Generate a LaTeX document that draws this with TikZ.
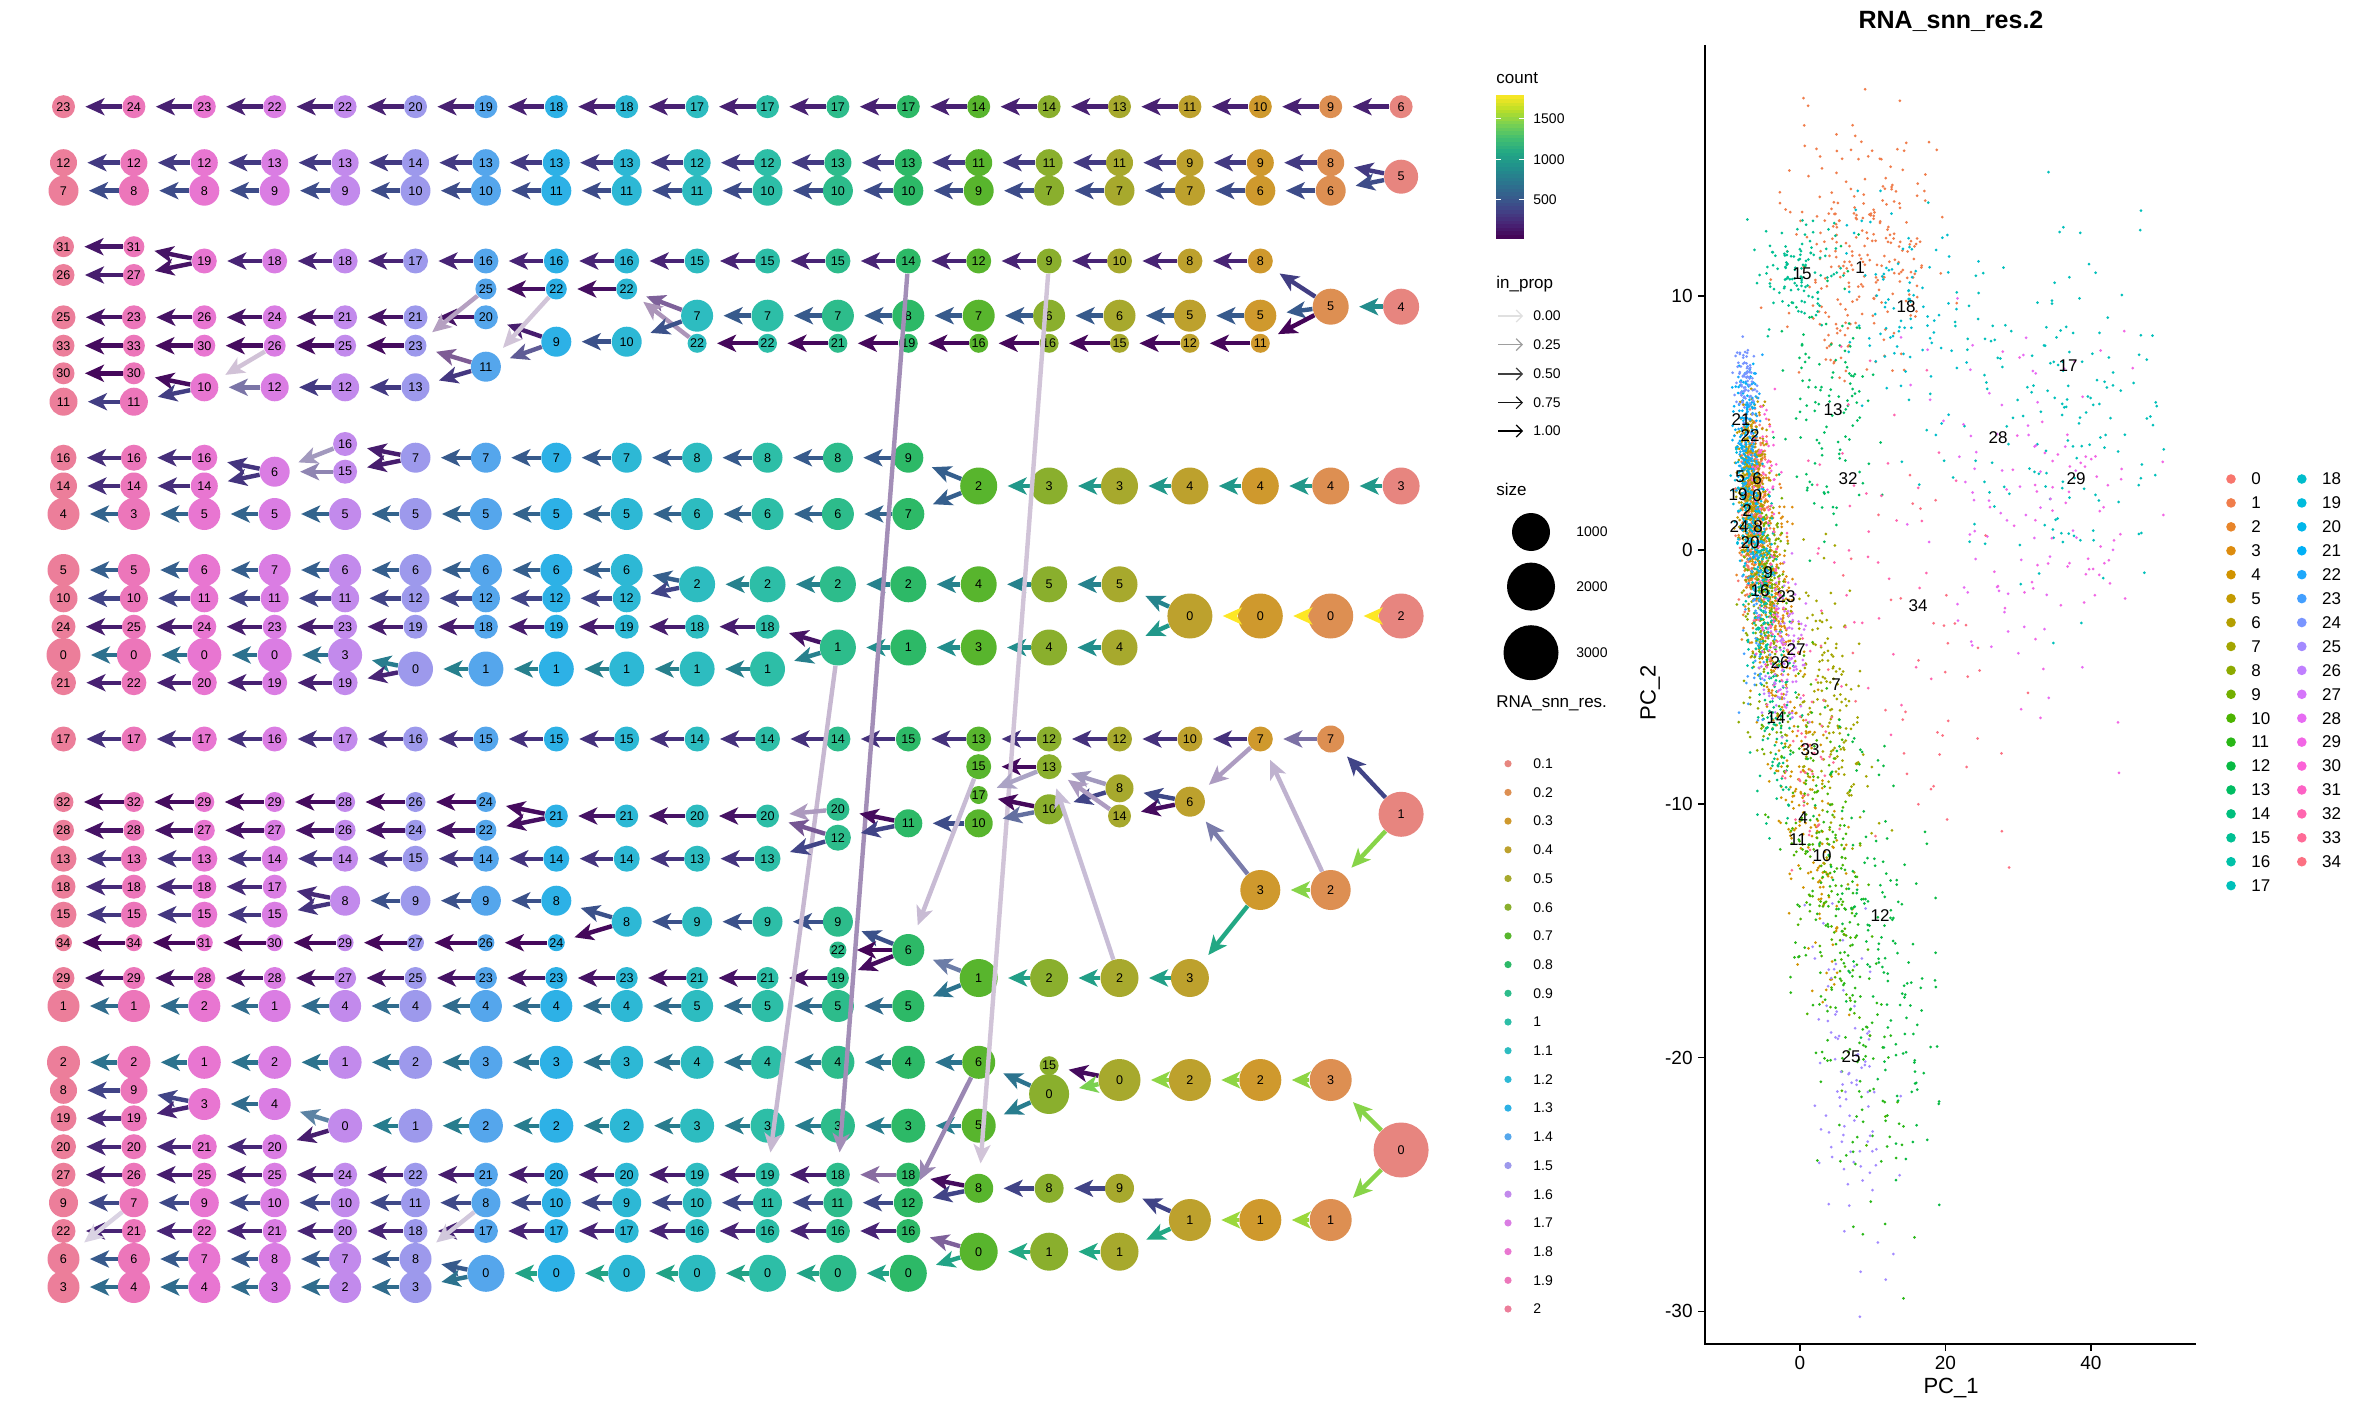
\documentclass[tikz,border=0pt]{standalone}
\usepackage{fontspec}
\setmainfont{Liberation Sans}
\usetikzlibrary{arrows.meta}
% hue palette (20)
\definecolor{p0}{HTML}{F8766D}\definecolor{p1}{HTML}{EA8331}\definecolor{p2}{HTML}{D89000}
\definecolor{p3}{HTML}{C09B00}\definecolor{p4}{HTML}{A3A500}\definecolor{p5}{HTML}{7CAE00}
\definecolor{p6}{HTML}{39B600}\definecolor{p7}{HTML}{00BB4E}\definecolor{p8}{HTML}{00BF7D}
\definecolor{p9}{HTML}{00C1A3}\definecolor{p10}{HTML}{00BFC4}\definecolor{p11}{HTML}{00BAE0}
\definecolor{p12}{HTML}{00B0F6}\definecolor{p13}{HTML}{35A2FF}\definecolor{p14}{HTML}{9590FF}
\definecolor{p15}{HTML}{C77CFF}\definecolor{p16}{HTML}{E76BF3}\definecolor{p17}{HTML}{FA62DB}
\definecolor{p18}{HTML}{FF62BC}\definecolor{p19}{HTML}{FF6C91}
% viridis
\definecolor{v0}{HTML}{440154}\definecolor{v1}{HTML}{482475}\definecolor{v2}{HTML}{414487}
\definecolor{v3}{HTML}{355F8D}\definecolor{v4}{HTML}{2A788E}\definecolor{v5}{HTML}{21918C}
\definecolor{v6}{HTML}{22A884}\definecolor{v7}{HTML}{44BF70}\definecolor{v8}{HTML}{7AD151}
\definecolor{v9}{HTML}{BDDF26}\definecolor{v10}{HTML}{FDE725}
\definecolor{mg}{HTML}{B4B4B4}
\newcommand\setvir[1]{%
  \pgfmathsetmacro\virx{#1}%
  \pgfmathtruncatemacro\virk{min(floor(\virx),9)}%
  \pgfmathtruncatemacro\virn{\virk+1}%
  \pgfmathtruncatemacro\virp{round(100*(\virn-\virx))}%
  \colorlet{ecol}{v\virk!\virp!v\virn}%
}
\newcommand\hcol[2]{%
  \pgfmathsetmacro\hpp{#1*20/35}%
  \pgfmathtruncatemacro\hpk{floor(\hpp)}%
  \pgfmathtruncatemacro\hpn{mod(\hpk+1,20)}%
  \pgfmathtruncatemacro\hpf{round(100*(1-\hpp+\hpk))}%
  \colorlet{#2}{p\hpk!\hpf!p\hpn}%
}
\tikzset{
  cn/.style={circle, inner sep=0pt, font=\fontsize{6.3}{7}\selectfont},
  ed/.style={line width=2.2pt, -{Stealth[length=9.5pt,width=8.5pt,inset=2.5pt]}, shorten >=5pt},
  lgt/.style={font=\fontsize{7}{8}\selectfont, anchor=west, inner sep=0pt},
  lgh/.style={font=\fontsize{8.5}{10}\selectfont, anchor=west, inner sep=0pt},
  axt/.style={font=\fontsize{9.5}{11}\selectfont, inner sep=0pt},
  cll/.style={font=\fontsize{8.5}{10}\selectfont, inner sep=0pt},
}
% row of clustree nodes: y, first column, radius(px), edge colour index, edge opacity(%), labels
\newcommand\crownodes[6]{%
  \foreach \l [count=\i from 0] in {#6}{%
    \pgfmathtruncatemacro\cc{#2+\i}%
    \pgfmathtruncatemacro\pc{19-\cc}%
    \node[cn, minimum size=#3pt, fill=p\pc!75!mg] (n\cc-\l) at ({63.5+70.4*\cc},#1) {\l};
  }%
}
\newcommand\crowedges[6]{%
  \foreach \l [count=\i from 0, remember=\l as \lp (initially x)] in {#6}{%
    \ifnum\i>0
      \pgfmathtruncatemacro\cc{#2+\i}%
      \pgfmathtruncatemacro\cq{\cc-1}%
      \setvir{#4}%
      \draw[ed, draw=ecol!#5!white] (n\cc-\l) -- (n\cq-\lp);
    \fi
  }%
}
\newcommand\xedge[4]{%
  \setvir{#3}%
  \draw[ed, draw=ecol!#4!white] (#1) -- (#2);
}
\newcommand\rowsdata{%
\crow{106.7}{0}{11.5}{0.9}{100}{23,24,23,22,22,20,19,18,18,17,17,17,17,14,14,13,11,10,9,6}
\crow{162.7}{0}{13.5}{1.7}{100}{12,12,12,13,13,14,13,13,13,12,12,13,13,11,11,11,9,9,8}
\crow{190.7}{0}{15}{2.3}{100}{7,8,8,9,9,10,10,11,11,11,10,10,10,9,7,7,7,6,6}
\crow{176.7}{19}{17}{0}{100}{5}
\crow{246.7}{0}{10.5}{0.6}{100}{31,31}
\crow{275}{0}{11}{0.8}{100}{26,27}
\crow{261}{2}{12.5}{1}{100}{19,18,18,17,16,16,16,15,15,15,14,12,9,10,8,8}
\crow{289}{6}{10.5}{0.4}{100}{25,22,22}
\crow{317.3}{0}{12}{0.5}{100}{25,23,26,24,21,21,20}
\crow{345.7}{0}{11}{0.3}{100}{33,33,30,26,25,23}
\crow{373.3}{0}{11}{0.2}{100}{30,30}
\crow{401.7}{0}{14}{1.8}{100}{11,11}
\crow{387.3}{2}{14}{1.7}{100}{10}
\crow{387.3}{3}{14}{1.7}{100}{12,12,13}
\crow{366.7}{6}{15}{0}{100}{11}
\crow{341.7}{7}{15}{2.5}{100}{9,10}
\crow{315.7}{9}{16}{2.8}{100}{7,7,7,8,7,6,6,5,5}
\crow{343.3}{9}{9.5}{0.2}{100}{22,22,21,19,16,16,15,12,11}
\crow{306.7}{18}{18}{4.8}{100}{5,4}
\crow{444}{4}{12}{0}{100}{16}
\crow{471.7}{4}{12}{0}{100}{15}
\crow{471.7}{3}{15}{0}{100}{6}
\crow{457.7}{0}{13}{1.3}{100}{16,16,16}
\crow{486}{0}{13.5}{1.3}{100}{14,14,14}
\crow{457.7}{5}{15}{2.8}{100}{7,7,7,7,8,8,8,9}
\crow{486}{13}{18.5}{5.3}{100}{2,3,3,4,4,4,3}
\crow{514}{0}{16}{3.2}{100}{4,3,5,5,5,5,5,5,5,6,6,6,7}
\crow{570}{0}{16}{3}{100}{5,5,6,7,6,6,6,6,6}
\crow{598.3}{0}{14}{2}{100}{10,10,11,11,11,12,12,12,12}
\crow{584.3}{9}{18}{4.4}{100}{2,2,2,2,4,5,5}
\crow{626.7}{0}{12}{0.8}{100}{24,25,24,23,23,19,18,19,19,18,18}
\crow{655}{0}{17}{3.7}{100}{0,0,0,0,3}
\crow{682.7}{0}{12.5}{0.9}{100}{21,22,20,19,19}
\crow{669}{5}{17.5}{4.3}{100}{0,1,1,1,1,1}
\crow{647.5}{11}{18}{4.9}{100}{1,1,3,4,4}
\crow{616}{16}{22.5}{10}{100}{0,0,0,2}
\crow{739}{0}{12.5}{1.4}{100}{17,17,17,16,17,16,15,15,15,14,14,14,15,13,12,12,10,7}
\crow{739}{18}{13.5}{0}{100}{7}
\crow{814.3}{19}{22.5}{0}{100}{1}
\crow{890}{17}{20}{8.2}{100}{3,2}
\crow{801.7}{16}{15}{0}{100}{6}
\crow{788.3}{15}{14}{0}{100}{8}
\crow{816}{15}{11.5}{0}{100}{14}
\crow{766.7}{13}{12.5}{0.3}{100}{15,13}
\crow{795}{13}{9}{0}{100}{17}
\crow{823.3}{12}{14}{2.3}{100}{11,10}
\crow{809.3}{14}{15}{0}{100}{10}
\crow{809.3}{11}{11.5}{0}{100}{20}
\crow{837.7}{11}{13}{0}{100}{12}
\crow{816}{7}{11.5}{0.5}{100}{21,21,20,20}
\crow{802}{0}{10}{0.3}{100}{32,32,29,29,28,26,24}
\crow{830.3}{0}{10.5}{0.5}{100}{28,28,27,27,26,24,22}
\crow{858.7}{0}{13}{1.5}{100}{13,13,13,14,14,15,14,14,14,13,13}
\crow{886.7}{0}{12}{1.2}{100}{18,18,18,17}
\crow{914.7}{0}{13}{1.6}{100}{15,15,15,15}
\crow{900.7}{4}{15}{2.5}{100}{8,9,9,8}
\crow{921.7}{8}{15}{2.5}{100}{8,9,9,9}
\crow{942.7}{0}{8.5}{0.2}{100}{34,34,31,30,29,27,26,24}
\crow{950}{11}{8.5}{0}{100}{22}
\crow{950}{12}{16}{0}{100}{6}
\crow{978}{0}{11}{0.5}{100}{29,29,28,28,27,25,23,23,23,21,21,19}
\crow{978}{13}{19}{5.6}{100}{1,2,2,3}
\crow{1006}{0}{16}{3.5}{100}{1,1,2,1,4,4,4,4,4,5,5,5,5}
\crow{1062.3}{0}{16.5}{3.8}{100}{2,2,1,2,1,2,3,3,3,4,4,4,4,6}
\crow{1125.7}{4}{17}{4.2}{100}{0,1,2,2,2,3,3,3,3,5}
\crow{1104}{2}{16}{3.5}{100}{3,4}
\crow{1090.3}{0}{13.5}{2}{100}{8,9}
\crow{1118.3}{0}{13}{1.2}{100}{19,19}
\crow{1146.7}{0}{12.5}{1.1}{100}{20,20,21,20}
\crow{1174.7}{0}{12}{0.8}{100}{27,26,25,25,24,22,21,20,20,19,19,18}
\crow{1174.7}{12}{12}{0}{100}{18}
\crow{1202.7}{0}{14.5}{2.2}{100}{9,7,9,10,10,11,8,10,9,10,11,11,12}
\crow{1231}{0}{12}{1}{100}{22,21,22,21,20,18,17,17,17,16,16,16,16}
\crow{1259}{0}{16}{2.8}{100}{6,6,7,8,7,8}
\crow{1287}{0}{16}{3.5}{100}{3,4,4,3,2,3}
\crow{1273.3}{6}{18.5}{5.8}{100}{0,0,0,0,0,0,0}
\crow{1251.7}{13}{19}{6}{100}{0,1,1}
\crow{1220}{16}{21}{8.5}{100}{1,1,1}
\crow{1188.3}{13}{14.5}{2}{100}{8,8,9}
\crow{1080}{15}{21}{8.3}{100}{0,2,2,3}
\crow{1094}{14}{20}{0}{100}{0}
\crow{1065.7}{14}{9.5}{0}{100}{15}
\crow{1150}{19}{27.5}{0}{100}{0}
}
\begin{document}
\begin{tikzpicture}[x=0.5pt,y=-0.5pt]
\useasboundingbox (0,0) rectangle (2362,1412);
\fill[white] (0,0) rectangle (2362,1412);
% ---------------- clustree: nodes, then edges ----------------
\let\crow\crownodes
\rowsdata
\let\crow\crowedges
\rowsdata
% ---------------- branching edges ----------------
\xedge{n19-5}{n18-8}{1.7}{100}
\xedge{n19-5}{n18-6}{2.3}{100}
\xedge{n2-19}{n1-31}{0.5}{100}
\xedge{n2-19}{n1-27}{0.5}{100}
\xedge{n18-5}{n17-8}{1.8}{100}
\xedge{n18-5}{n17-5}{2.8}{100}
\xedge{n18-5}{n17-11}{0.1}{100}
\xedge{n9-7}{n8-22}{0.8}{70}
\xedge{n9-22}{n8-22}{0.5}{45}
\xedge{n9-7}{n8-10}{2.5}{100}
\xedge{n7-9}{n6-20}{0.8}{100}
\xedge{n7-9}{n6-11}{1.8}{85}
\xedge{n7-22}{n6-11}{0.5}{25}
\xedge{n6-25}{n5-23}{0.5}{40}
\xedge{n6-11}{n5-23}{0.6}{70}
\xedge{n6-11}{n5-13}{1.6}{100}
\xedge{n2-10}{n1-30}{0.3}{100}
\xedge{n2-10}{n1-11}{1.8}{100}
\xedge{n3-26}{n2-10}{0.3}{25}
\xedge{n3-12}{n2-10}{1.7}{70}
\xedge{n5-7}{n4-16}{0.8}{100}
\xedge{n5-7}{n4-15}{0.8}{100}
\xedge{n4-16}{n3-6}{1.5}{50}
\xedge{n4-15}{n3-6}{1.5}{60}
\xedge{n3-6}{n2-16}{1.5}{100}
\xedge{n3-6}{n2-14}{1.5}{100}
\xedge{n13-2}{n12-9}{3}{100}
\xedge{n13-2}{n12-7}{3}{100}
\xedge{n14-9}{n13-8}{0.5}{25}
\xedge{n12-14}{n11-18}{0.8}{50}
\xedge{n9-2}{n8-6}{3}{100}
\xedge{n9-2}{n8-12}{2}{100}
\xedge{n11-1}{n10-18}{0.5}{100}
\xedge{n11-1}{n10-1}{4.3}{100}
\xedge{n16-0}{n15-5}{4.5}{100}
\xedge{n16-0}{n15-4}{5.3}{100}
\xedge{n5-0}{n4-3}{4.2}{100}
\xedge{n5-0}{n4-19}{1}{100}
\xedge{n11-1}{n10-19}{0.5}{30}
\xedge{n19-1}{n18-7}{2}{100}
\xedge{n19-1}{n18-2}{8.2}{100}
\xedge{n18-7}{n17-7}{1.5}{70}
\xedge{n18-2}{n17-7}{1}{35}
\xedge{n17-3}{n16-6}{2}{70}
\xedge{n17-3}{n16-3}{6}{100}
\xedge{n17-7}{n16-6}{1}{45}
\xedge{n16-6}{n15-8}{2.2}{100}
\xedge{n16-6}{n15-14}{0.3}{100}
\xedge{n15-8}{n14-13}{1.5}{50}
\xedge{n15-8}{n14-10}{2}{100}
\xedge{n15-14}{n14-13}{1}{45}
\xedge{n15-2}{n14-13}{1}{30}
\xedge{n14-13}{n13-17}{1.5}{45}
\xedge{n14-10}{n13-17}{0.2}{100}
\xedge{n14-10}{n13-10}{2.3}{80}
\xedge{n13-15}{n12-6}{0.8}{30}
\xedge{n12-11}{n11-20}{0.3}{100}
\xedge{n12-11}{n11-12}{2}{100}
\xedge{n11-20}{n10-20}{0.8}{45}
\xedge{n11-12}{n10-20}{0.8}{75}
\xedge{n11-12}{n10-13}{2}{100}
\xedge{n7-21}{n6-24}{0.3}{100}
\xedge{n7-21}{n6-22}{0.4}{100}
\xedge{n4-8}{n3-17}{1.2}{100}
\xedge{n4-8}{n3-15}{1.5}{100}
\xedge{n8-8}{n7-8}{2.5}{100}
\xedge{n8-8}{n7-24}{0.2}{100}
\xedge{n12-6}{n11-9}{2.5}{100}
\xedge{n12-6}{n11-22}{0.1}{100}
\xedge{n12-6}{n11-19}{0.3}{100}
\xedge{n13-1}{n12-6}{2.5}{75}
\xedge{n13-1}{n12-5}{3.8}{100}
\xedge{n19-0}{n18-3}{8.2}{100}
\xedge{n19-0}{n18-1}{8.2}{100}
\xedge{n15-0}{n14-15}{0.3}{100}
\xedge{n15-0}{n14-0}{8}{100}
\xedge{n14-0}{n13-6}{3.8}{100}
\xedge{n14-0}{n13-5}{4.2}{100}
\xedge{n16-1}{n15-9}{2}{100}
\xedge{n16-1}{n15-1}{6}{100}
\xedge{n13-6}{n12-12}{1}{55}
\xedge{n13-8}{n12-18}{0.3}{100}
\xedge{n13-8}{n12-12}{2}{100}
\xedge{n13-0}{n12-16}{0.8}{70}
\xedge{n13-0}{n12-0}{5.8}{100}
\xedge{n12-18}{n11-18}{0.8}{65}
\xedge{n6-0}{n5-8}{2.8}{100}
\xedge{n6-0}{n5-3}{3.8}{100}
\xedge{n6-8}{n5-8}{1}{25}
\xedge{n1-7}{n0-6}{1}{20}
\xedge{n4-0}{n3-4}{3.2}{80}
\xedge{n4-0}{n3-20}{0.8}{100}
\xedge{n2-3}{n1-9}{2}{100}
\xedge{n2-3}{n1-19}{1}{100}
% ---------------- clustree legends ----------------
\node[lgh] (lgcount) at (1496,78) {count};
\foreach \s in {0,...,39}{
  \setvir{(\s+0.5)/4}
  \fill[ecol] (1496,{238.6-\s*3.5775}) rectangle (1524,{238.6-(\s+1)*3.5775-0.4});
}
\foreach \yy/\tt in {118.6/1500,159.4/1000,199.8/500}{
  \draw[white, line width=0.6pt] (1496,\yy) -- (1501,\yy);
  \draw[white, line width=0.6pt] (1519,\yy) -- (1524,\yy);
  \node[lgt] (lgc\tt) at (1533,\yy) {\tt};
}
\node[lgh] (lginprop) at (1496,284) {in\_prop};
\foreach \yy/\tt/\gg in {316/0.00/12,344.6/0.25/38,374/0.50/75,402.7/0.75/92,431/1.00/100}{
  \draw[black!\gg, line width=0.6pt, -{Straight Barb[length=3pt,width=6pt]}] (1498,\yy) -- (1523,\yy);
  \node[lgt] (lgi\tt) at (1533,\yy) {\tt};
}
\node[lgh] (lgsize) at (1496,489) {size};
\foreach \yy/\rr/\tt in {532/19/1000,586.6/24/2000,652.7/27.5/3000}{
  \fill[black] (1531,\yy) circle (\rr*0.5pt);
  \node[lgt] (lgs\tt) at (1576,\yy) {\tt};
}
\node[lgh] (lgres) at (1496,703) {RNA\_snn\_res.};
\foreach \tt [count=\i from 0] in {0.1,0.2,0.3,0.4,0.5,0.6,0.7,0.8,0.9,1,1.1,1.2,1.3,1.4,1.5,1.6,1.7,1.8,1.9,2}{
  \fill[p\i!75!mg] (1508,{763.7+28.7*\i}) circle (1.8pt);
  \node[lgt] (lgr\i) at (1533,{763.7+28.7*\i}) {\tt};
}
% ---------------- PCA scatter ----------------
\begin{scope}
\clip (1707,40) rectangle (2205,1342);
\pgfmathsetseed{4242}
\foreach \cl/\mx/\my/\sx/\sy/\n/\tl in {
0/-6.5/1.5/1.0/1.8/300/0, 1/8/12/5/2.5/260/0, 2/-6/0.5/1.2/2/250/0, 3/-3.5/-2/1.5/2/200/0,
4/1/-10/2.2/3.5/200/-0.55, 5/-7/3/0.9/1.5/180/0, 6/-6.5/2/1/1.5/180/0, 7/4/-6/2.5/3/180/-0.5,
8/-5/-3/1.5/2/150/0, 9/-4.5/-1/1/1.5/130/0, 10/3/-12/2.5/4/150/-0.6, 11/5/-16/3/5/170/-0.6,
12/11/-15/3.5/5/150/-0.6, 13/4/5.5/3.5/2.5/120/0, 14/-3.5/-6.5/1.5/2/100/0, 15/0/11/3/1.1/110/0,
16/-5.2/-1.7/1/1.5/110/0, 17/35/6/8/3.5/170/0, 18/14/9.5/4/2/90/0, 19/-7.5/2/0.8/1.2/90/0,
20/-6/0.3/1/1.2/90/0, 21/-7.5/5/0.8/1.2/90/0, 22/-7/4.5/0.8/1.2/80/0, 23/-6/-2.5/1.2/2/70/0,
24/-7.5/6.5/0.7/0.8/80/0, 25/7/-21/2.5/3.5/90/-0.3, 26/-3/-4.3/1.3/1.5/60/0, 27/-1/-4/1.3/1.5/60/0,
28/27/2/6/4/70/0, 29/37/1/6/4/70/0, 30/-5/3/1/1.5/50/0, 31/-4/-3/1/1.5/50/0,
32/8/0/6/3.5/45/0, 33/1/-8/2/2/50/0, 34/18/-5/8/4/45/0}{
  \hcol{\cl}{scol}
  \foreach \k in {1,...,\n}{
    \pgfmathsetmacro\gy{\my+\sy*(rand+rand+rand)}
    \pgfmathsetmacro\gx{\mx+\sx*(rand+rand+rand)+\tl*(\gy-\my)}
    \fill[scol] ({1800+7.27*\gx},{550-25.38*\gy}) circle (0.75pt);
  }
}
\end{scope}
% axes
\draw[line width=0.8pt] (1705,45) -- (1705,1344) -- (2196,1344);
\foreach \v/\tt in {10/10,0/0,-10/-10,-20/-20,-30/-30}{
  \draw[line width=0.8pt] (1698,{550-25.38*\v}) -- (1705,{550-25.38*\v});
  \node[axt, anchor=east] (yt\v) at (1693,{550-25.38*\v}) {\tt};
}
\foreach \v in {0,20,40}{
  \draw[line width=0.8pt] ({1800+7.27*\v},1344) -- ({1800+7.27*\v},1351);
  \node[axt, anchor=north] (xt\v) at ({1800+7.27*\v},1356) {\v};
}
\node[font=\fontsize{11}{13}\selectfont, inner sep=0pt] (pc1) at (1951,1388) {PC\_1};
\node[font=\fontsize{11}{13}\selectfont, inner sep=0pt, rotate=90] (pc2) at (1650,693) {PC\_2};
\node[font=\bfseries\fontsize{12.5}{14}\selectfont, inner sep=0pt] (ttl) at (1951,21) {RNA\_snn\_res.2};
% cluster labels on the scatter
\foreach \tt/\xx/\yy in {15/1802/274, 1/1860/268, 18/1906/307, 17/2068/366, 13/1833/410, 28/1998/438,
  32/1848/479, 29/2076/479, 34/1918/606, 21/1741/420, 22/1750/436, 5/1740/477, 6/1757/479,
  19/1738/495, 0/1757/496, 2/1747/511, 24/1739/527, 8/1758/527, 20/1750/543, 9/1768/573,
  16/1760/591, 23/1786/597, 27/1796/650, 26/1780/663, 7/1836/685, 14/1776/718, 33/1810/750,
  4/1803/818, 11/1798/840, 10/1822/856, 12/1880/916, 25/1851/1057}{
  \node[cll] (cl\tt) at (\xx,\yy) {\tt};
}
% scatter legend
\foreach \j in {0,...,34}{
  \pgfmathtruncatemacro\lc{\j<18 ? 0 : 1}
  \pgfmathtruncatemacro\lr{\j<18 ? \j : \j-18}
  \hcol{\j}{lcol}
  \fill[lcol] ({2231+70.8*\lc},{479+23.92*\lr}) circle (2.4pt);
  \node[cll, anchor=west] (sl\j) at ({2251+70.8*\lc},{479+23.92*\lr}) {\j};
}
\end{tikzpicture}
\end{document}
